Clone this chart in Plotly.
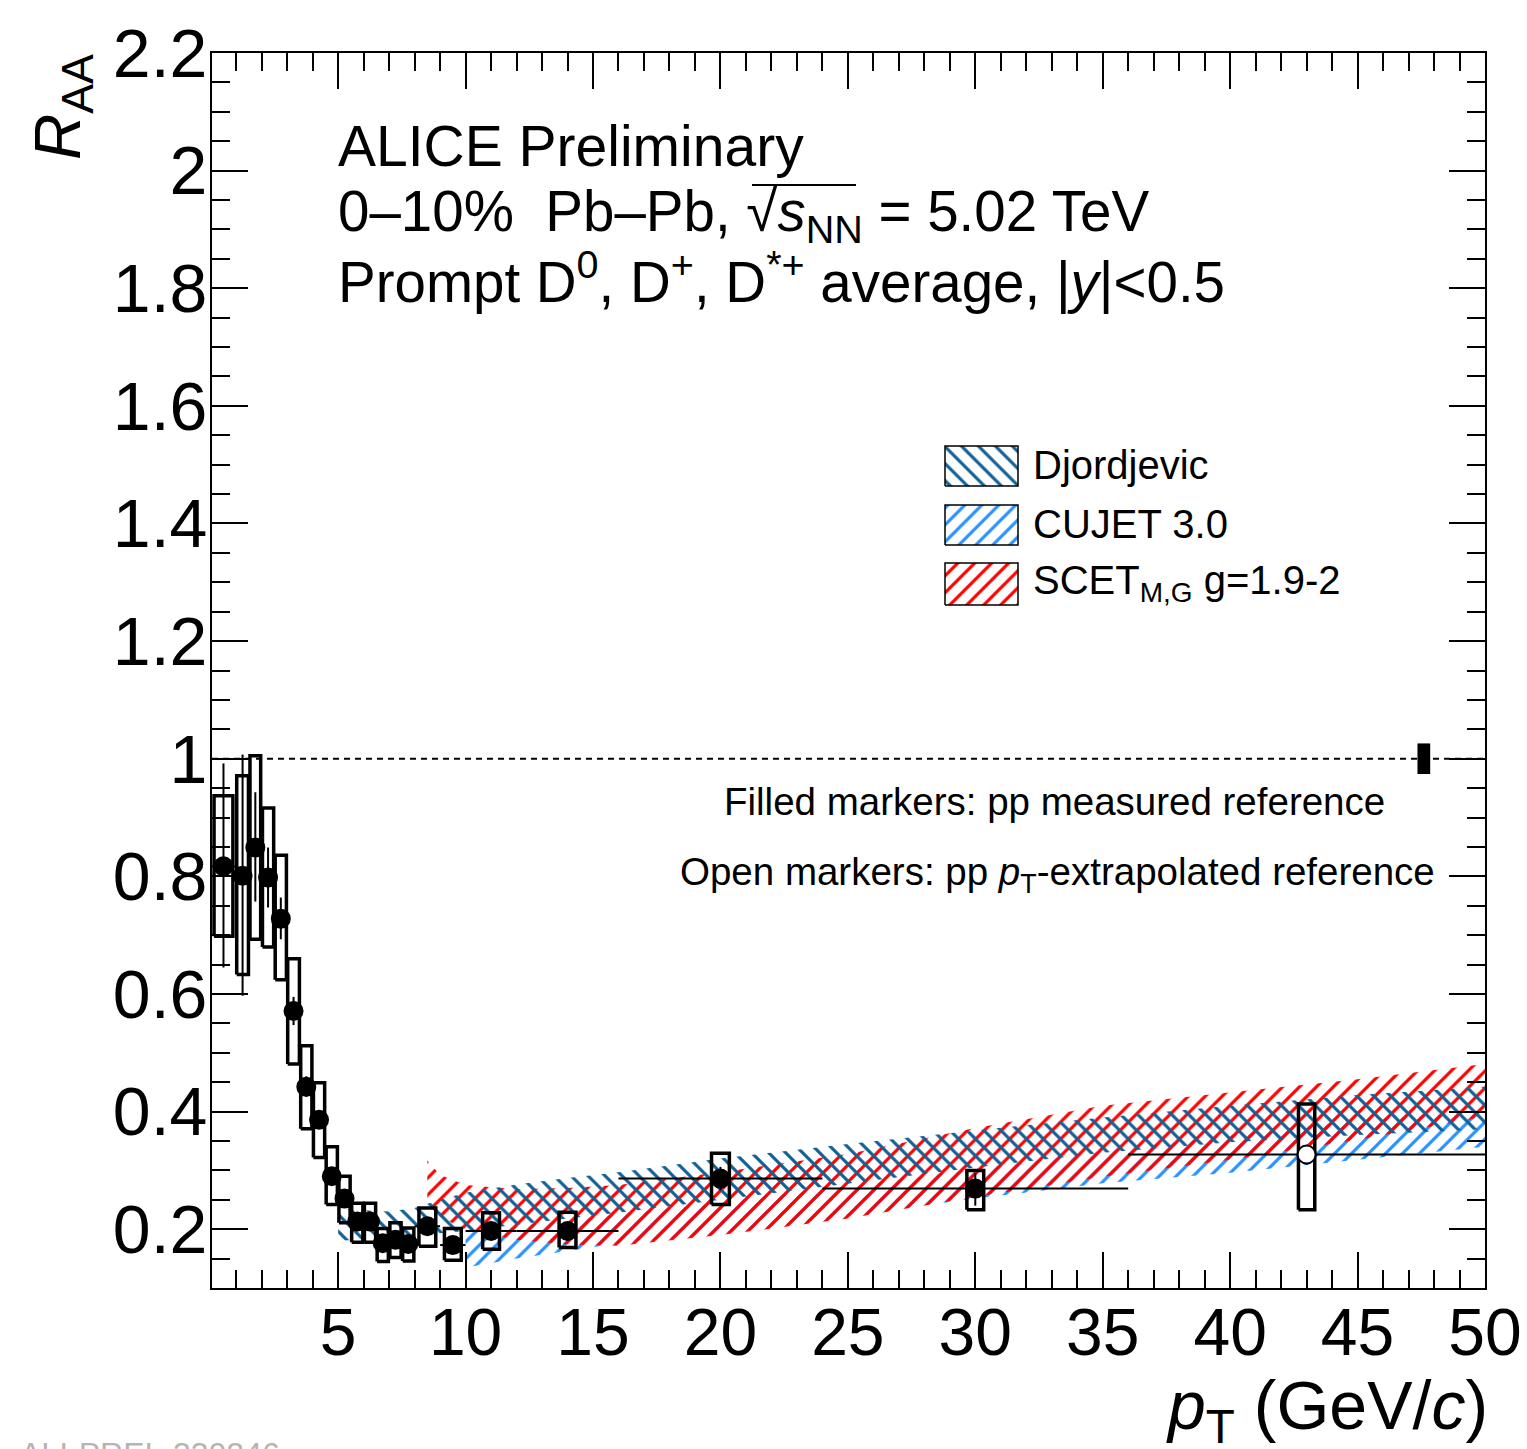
import plotly.graph_objects as go

# ---------------- data ----------------
pt = [0.5, 1.25, 1.75, 2.25, 2.75, 3.25, 3.75, 4.25, 4.75, 5.25, 5.75, 6.25, 6.75, 7.25, 7.75,
      8.5, 9.5, 11, 14, 20, 30, 43]
bin_half = [0.5, 0.25, 0.25, 0.25, 0.25, 0.25, 0.25, 0.25, 0.25, 0.25, 0.25, 0.25, 0.25, 0.25, 0.25,
            0.5, 0.5, 1, 2, 4, 6, 7]
raa = [0.817, 0.801, 0.849, 0.798, 0.728, 0.571, 0.442, 0.386, 0.290, 0.252, 0.213, 0.213, 0.176,
       0.182, 0.175, 0.205, 0.173, 0.197, 0.197, 0.286, 0.269, 0.327]
stat_up = [0.992, 1.007, 0.943, 0.849, 0.764, 0.595, 0.460, 0.401, 0.302, 0.263, 0.223, 0.223, 0.186,
           0.192, 0.185, 0.217, 0.184, 0.210, 0.210, 0.306, 0.295, 0.343]
stat_dn = [0.645, 0.597, 0.757, 0.747, 0.693, 0.547, 0.425, 0.371, 0.278, 0.241, 0.203, 0.203, 0.166,
           0.172, 0.165, 0.193, 0.162, 0.184, 0.184, 0.266, 0.240, 0.310]
syst_up = [0.937, 0.971, 1.005, 0.916, 0.836, 0.660, 0.512, 0.449, 0.340, 0.290, 0.244, 0.244, 0.201,
           0.211, 0.202, 0.236, 0.201, 0.228, 0.229, 0.329, 0.300, 0.413]
syst_dn = [0.698, 0.633, 0.693, 0.680, 0.624, 0.481, 0.371, 0.322, 0.242, 0.211, 0.178, 0.178, 0.145,
           0.152, 0.146, 0.171, 0.147, 0.166, 0.169, 0.242, 0.233, 0.233]
box_half = [0.37, 0.23, 0.21, 0.22, 0.22, 0.23, 0.22, 0.22, 0.22, 0.22, 0.22, 0.22, 0.22, 0.22, 0.22,
            0.33, 0.33, 0.33, 0.33, 0.35, 0.33, 0.32]
is_open = [False] * 21 + [True]

norm_pt = 47.6
norm_half = 0.25
norm_unc = 0.026

# model bands
djo_pt = [5, 6, 7, 8, 9, 10, 12, 14, 16, 20, 25, 30, 35, 40, 45, 50]
djo_lo = [0.180, 0.183, 0.187, 0.190, 0.193, 0.197, 0.208, 0.218, 0.228, 0.250, 0.278, 0.305, 0.330, 0.348, 0.360, 0.370]
djo_hi = [0.235, 0.232, 0.230, 0.236, 0.250, 0.262, 0.276, 0.287, 0.297, 0.320, 0.345, 0.368, 0.390, 0.410, 0.428, 0.442]

cujet_pt = [10, 12, 14, 16, 20, 25, 30, 35, 40, 45, 50]
cujet_lo = [0.135, 0.150, 0.163, 0.176, 0.193, 0.222, 0.252, 0.278, 0.296, 0.318, 0.340]
cujet_hi = [0.195, 0.205, 0.215, 0.225, 0.245, 0.272, 0.302, 0.332, 0.360, 0.385, 0.402]

scet_pt = [8.5, 9, 10, 12, 14, 16, 20, 25, 30, 35, 40, 45, 50]
scet_lo = [0.245, 0.222, 0.198, 0.182, 0.174, 0.172, 0.190, 0.218, 0.255, 0.289, 0.318, 0.352, 0.391]
scet_hi = [0.317, 0.292, 0.275, 0.268, 0.270, 0.275, 0.297, 0.328, 0.372, 0.410, 0.432, 0.455, 0.481]

x_ticks = [5, 10, 15, 20, 25, 30, 35, 40, 45, 50]
y_ticks = [0.2, 0.4, 0.6, 0.8, 1.0, 1.2, 1.4, 1.6, 1.8, 2.0, 2.2]
y_ticktext = ["0.2", "0.4", "0.6", "0.8", "1", "1.2", "1.4", "1.6", "1.8", "2", "2.2"]

legend_names = ["Djordjevic", "CUJET 3.0", "SCET<sub>M,G</sub> g=1.9-2"]

# ---------------- style ----------------
FONT = "Liberation Sans, Arial, Helvetica, sans-serif"
W, H = 1527, 1449
L, R, T, B = 212, 1485, 53, 1288

def X(px):
    return (px - L) / (R - L)

def Y(py):
    return (B - py) / (B - T)

DJO_C = "rgb(16,96,150)"
CUJ_C = "rgb(40,145,255)"
SCET_C = "rgb(255,0,0)"

def pattern(shape, color):
    return dict(shape=shape, fgcolor=color, fgopacity=1, bgcolor="rgba(0,0,0,0)", size=12, solidity=0.26)

fig = go.Figure()

def band(xs, lo, hi, color, shape):
    fig.add_trace(go.Scatter(
        x=list(xs) + list(xs)[::-1], y=list(lo) + list(hi)[::-1],
        mode="lines", fill="toself", line=dict(width=0, color="rgba(0,0,0,0)"),
        fillcolor="rgba(255,255,255,0)", opacity=1,
        fillpattern=pattern(shape, color),
        hoverinfo="skip", showlegend=False))

band(cujet_pt, cujet_lo, cujet_hi, CUJ_C, "/")
band(scet_pt, scet_lo, scet_hi, SCET_C, "/")
band(djo_pt, djo_lo, djo_hi, DJO_C, "\\")

# systematic boxes
bx, by = [], []
for p, hw, lo, hi in zip(pt, box_half, syst_dn, syst_up):
    bx += [p - hw, p + hw, p + hw, p - hw, p - hw, None]
    by += [lo, lo, hi, hi, lo, None]
fig.add_trace(go.Scatter(x=bx, y=by, mode="lines", line=dict(color="black", width=3.5),
                         hoverinfo="skip", showlegend=False))

# data points with stat errors
err_plus = [u - v for u, v in zip(stat_up, raa)]
err_minus = [v - d for v, d in zip(raa, stat_dn)]
fig.add_trace(go.Scatter(
    x=pt, y=raa, mode="markers",
    marker=dict(size=18, symbol="circle",
                color=["white" if o else "black" for o in is_open],
                line=dict(color="black", width=2)),
    error_y=dict(type="data", symmetric=False, array=err_plus, arrayminus=err_minus,
                 color="black", thickness=2, width=0),
    error_x=dict(type="data", array=bin_half, color="black", thickness=2, width=0),
    showlegend=False))

shapes = []
# reference line at 1
shapes.append(dict(type="line", xref="x", yref="y", x0=0.05, x1=50, y0=1, y1=1,
                   line=dict(color="black", width=2, dash="6px,5px"), layer="below"))
# normalisation box
shapes.append(dict(type="rect", xref="x", yref="y", x0=norm_pt - norm_half, x1=norm_pt + norm_half,
                   y0=1 - norm_unc, y1=1 + norm_unc, fillcolor="black", line=dict(width=0)))
# sqrt overline
shapes.append(dict(type="line", xref="paper", yref="paper", x0=X(752), x1=X(856), y0=Y(185), y1=Y(185),
                   line=dict(color="black", width=2)))

# legend boxes on an overlay axis in paper units
leg_boxes = [(446, 486), (505, 545), (563, 605)]
leg_colors = [DJO_C, CUJ_C, SCET_C]
leg_shapes = ["\\", "/", "/"]
for (y0, y1), c, s in zip(leg_boxes, leg_colors, leg_shapes):
    x0, x1 = X(945), X(1018)
    fig.add_trace(go.Scatter(
        x=[x0, x1, x1, x0, x0], y=[Y(y1), Y(y1), Y(y0), Y(y0), Y(y1)],
        xaxis="x2", yaxis="y2", mode="lines", fill="toself",
        line=dict(color="black", width=1.5), fillcolor="rgba(255,255,255,0)",
        fillpattern=pattern(s, c),
        hoverinfo="skip", showlegend=False))

ann = []
def text(s, px, py, size, xanchor="left", yanchor="middle", color="black", angle=0):
    ann.append(dict(text=s, x=X(px), y=Y(py), xref="paper", yref="paper", showarrow=False,
                    xanchor=xanchor, yanchor=yanchor, textangle=angle,
                    font=dict(family=FONT, size=size, color=color)))

text("ALICE Preliminary", 336, 146, 57)
text("0–10%\u00a0\u00a0Pb–Pb, √<i>s</i><sub>NN</sub> = 5.02 TeV", 336, 216, 56.5)
text("Prompt D<sup>0</sup>, D<sup>+</sup>, D<sup>*+</sup> average, |<i>y</i>|&lt;0.5", 336, 278, 56.5)
for name, (y0, y1) in zip(legend_names, leg_boxes):
    text(name, 1031, (y0 + y1) / 2 - 1, 40)
text("Filled markers: pp measured reference", 1387, 801, 38.5, xanchor="right")
text("Open markers: pp <i>p</i><sub>T</sub>-extrapolated reference", 1437, 874, 38.5, xanchor="right")
text("<i>R</i><sub>AA</sub>", 62, 52, 64, xanchor="center", yanchor="top", angle=-90)
text("<i>p</i><sub>T</sub> (GeV/<i>c</i>)", 1490, 1410, 68, xanchor="right")
text("ALI-PREL-330246", 18, 1434, 32, yanchor="top", color="#b4b4b4")

axis_common = dict(showline=True, linecolor="black", linewidth=2, mirror="allticks",
                   ticks="inside", tickcolor="black", tickwidth=2, ticklen=36,
                   showgrid=False, zeroline=False, automargin=False)

fig.update_layout(
    width=W, height=H,
    margin=dict(l=L, r=W - R, t=T, b=H - B, autoexpand=False),
    paper_bgcolor="white", plot_bgcolor="white",
    font=dict(family=FONT, color="black"),
    xaxis=dict(range=[0.05, 50], tickvals=x_ticks,
               minor=dict(dtick=1, tick0=0, ticks="inside", ticklen=18, tickwidth=2, tickcolor="black",
                          showgrid=False),
               tickfont=dict(family=FONT, size=66, color="black"),
               ticklabelstandoff=-14, **axis_common),
    yaxis=dict(range=[0.1, 2.2], tickvals=y_ticks, ticktext=y_ticktext,
               minor=dict(dtick=0.05, tick0=0, ticks="inside", ticklen=18, tickwidth=2, tickcolor="black",
                          showgrid=False),
               tickfont=dict(family=FONT, size=68, color="black"),
               ticklabelstandoff=-11, **axis_common),
    xaxis2=dict(overlaying="x", range=[0, 1], visible=False, fixedrange=True),
    yaxis2=dict(overlaying="y", range=[0, 1], visible=False, fixedrange=True),
    shapes=shapes, annotations=ann, showlegend=False,
)

fig.write_html("out.html")
